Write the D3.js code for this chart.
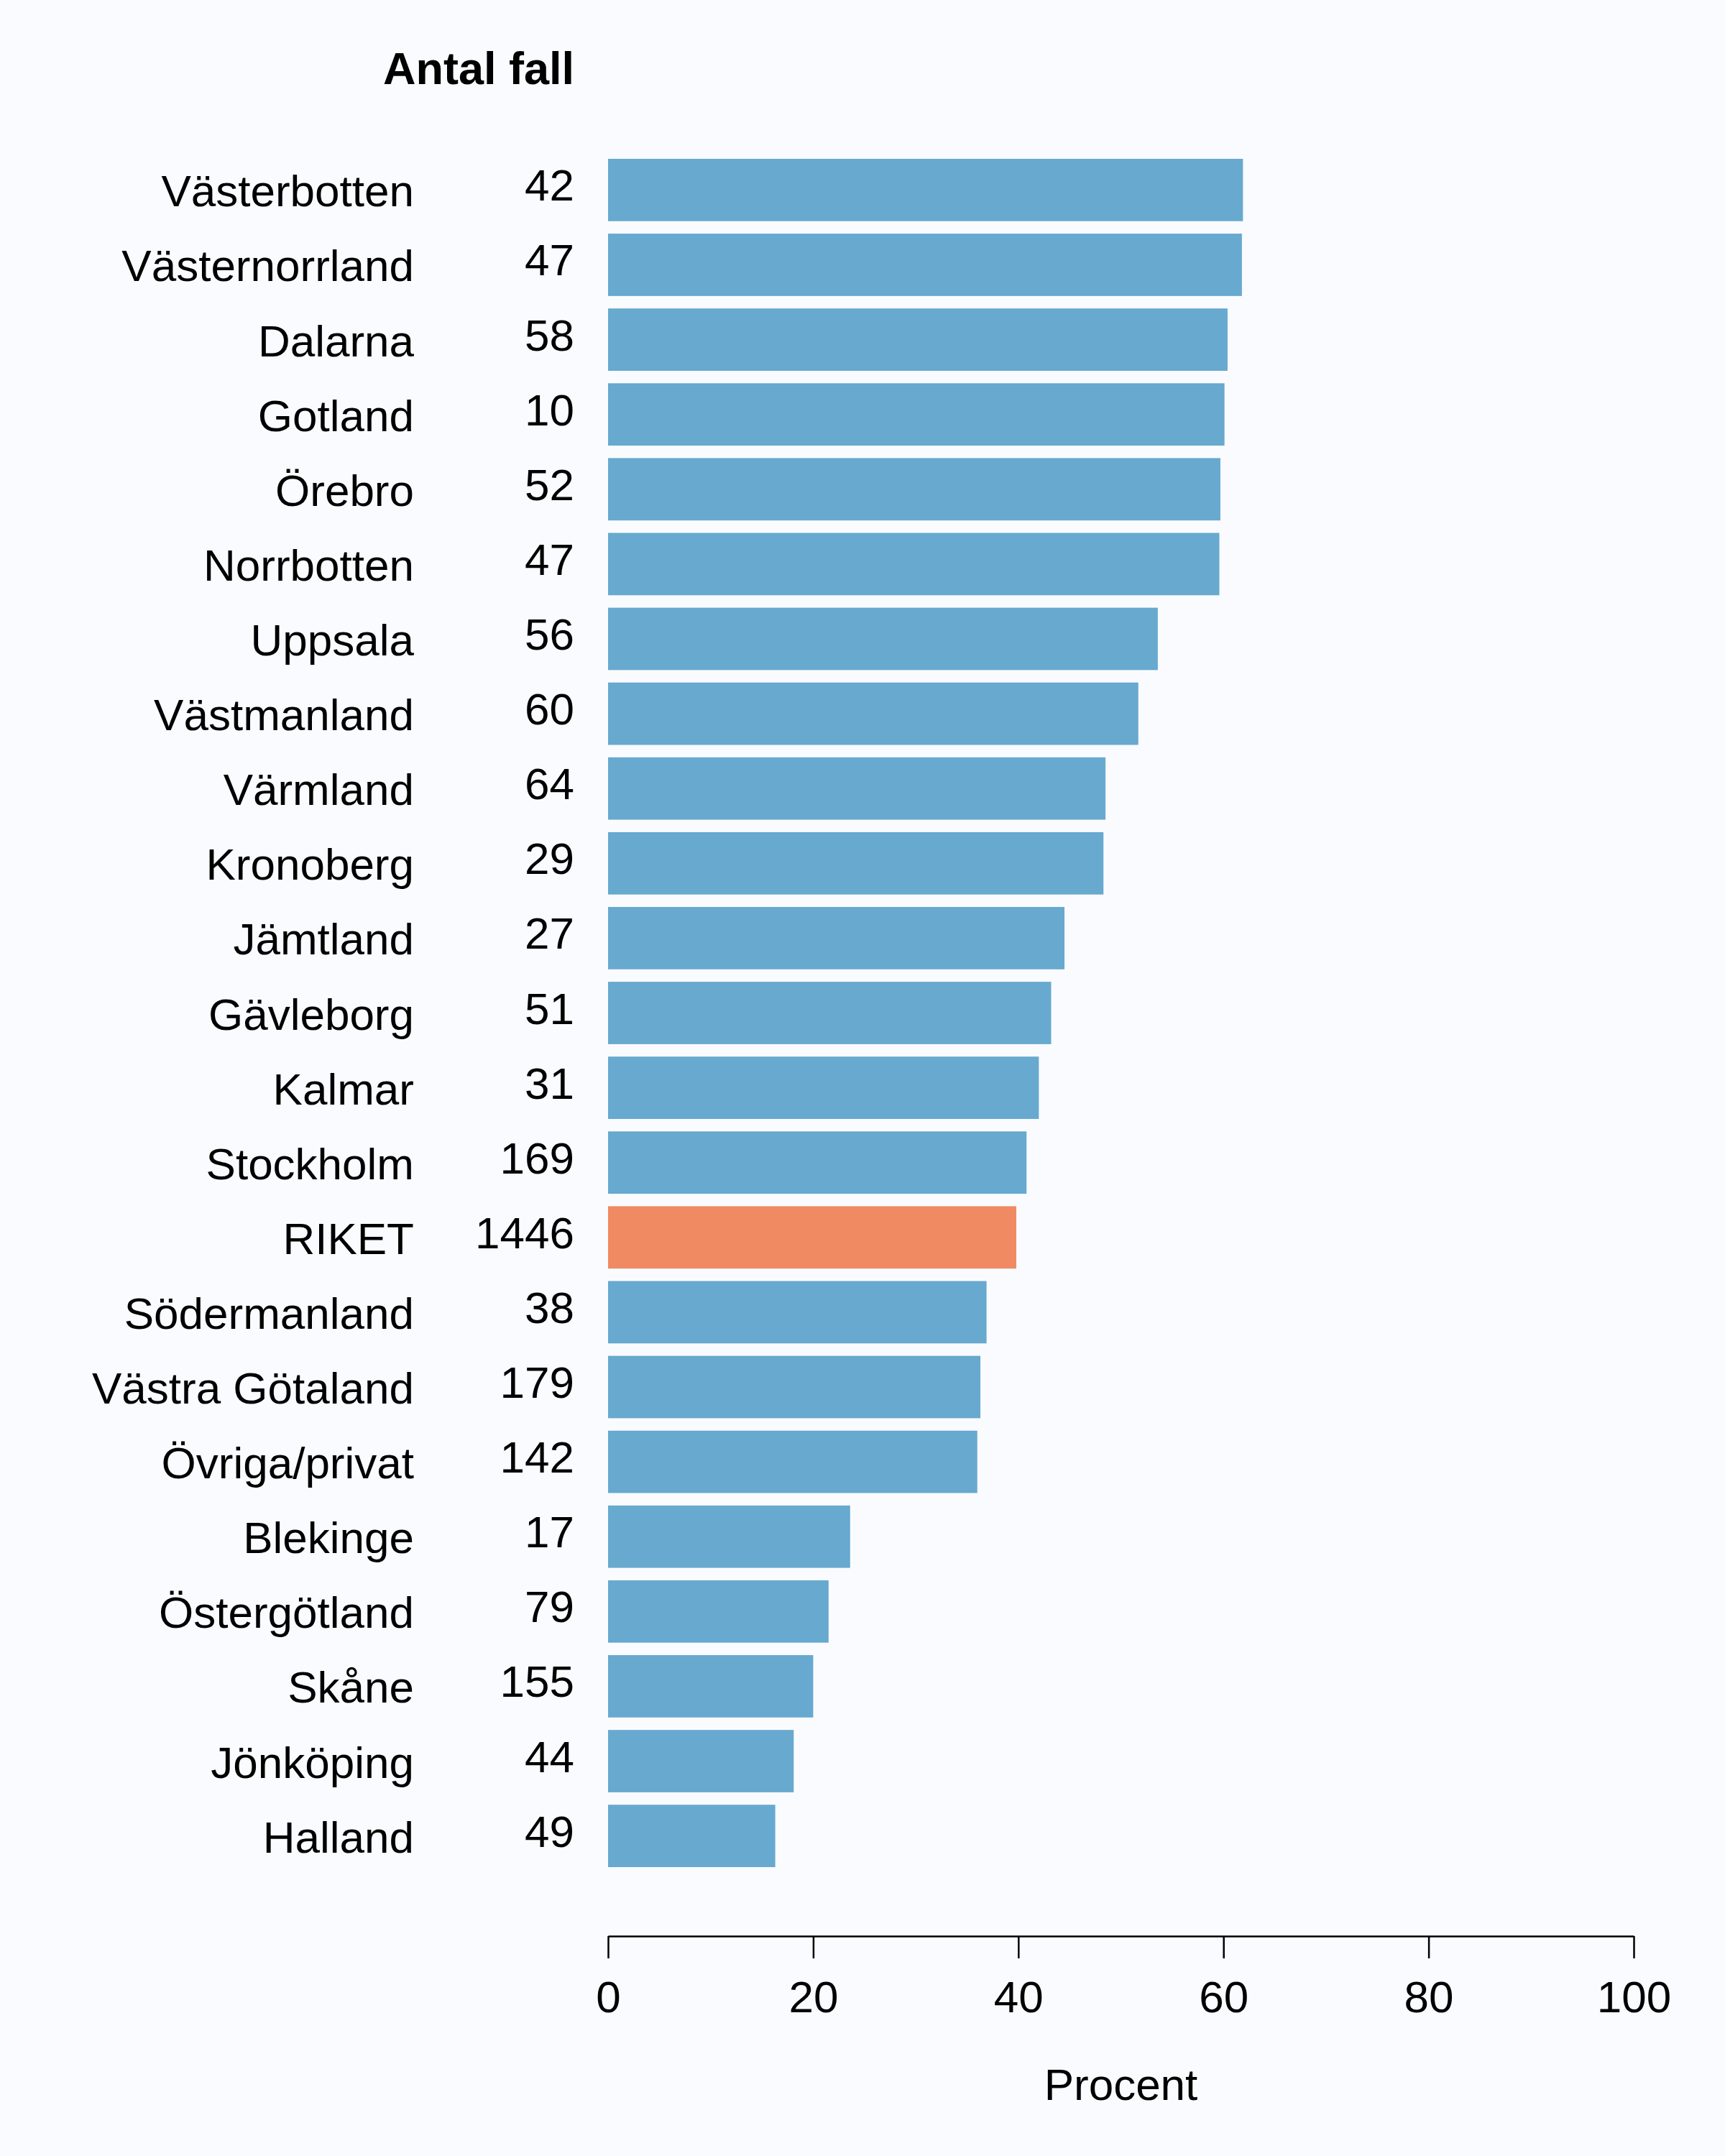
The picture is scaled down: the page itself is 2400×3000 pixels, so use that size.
<!DOCTYPE html>
<html>
<head>
<meta charset="utf-8">
<script src="https://cdn.jsdelivr.net/npm/d3@7"></script>
<style>
  body { margin: 0; background: #f9fbfe; }
  text { font-family: "Liberation Sans", Arial, Helvetica, sans-serif; }
</style>
</head>
<body>
<div id="chart"></div>
<script>
// data
let regions = ["Västerbotten", "Västernorrland", "Dalarna", "Gotland", "Örebro", "Norrbotten",
  "Uppsala", "Västmanland", "Värmland", "Kronoberg", "Jämtland", "Gävleborg", "Kalmar",
  "Stockholm", "RIKET", "Södermanland", "Västra Götaland", "Övriga/privat", "Blekinge",
  "Östergötland", "Skåne", "Jönköping", "Halland"];
let cases = [42, 47, 58, 10, 52, 47, 56, 60, 64, 29, 27, 51, 31, 169, 1446, 38, 179, 142, 17, 79, 155, 44, 49];
let percent = [61.9, 61.8, 60.4, 60.1, 59.7, 59.6, 53.6, 51.7, 48.5, 48.3, 44.5, 43.2, 42.0,
  40.8, 39.8, 36.9, 36.3, 36.0, 23.6, 21.5, 20.0, 18.1, 16.3];
let xTicks = [0, 20, 40, 60, 80, 100];
let highlight = "RIKET";

let width = 2400, height = 3000;
let margin = {top: 221, left: 846, right: 127, bottom: 402};

let svg = d3.select("#chart")
  .append("svg")
    .attr("width", width)
    .attr("height", height);

svg.append("rect")
  .attr("width", width)
  .attr("height", height)
  .attr("fill", "#f9fbfe");

let x = d3.scaleLinear()
  .domain([0, 100])
  .range([margin.left, width - margin.right]);

let y = d3.scaleBand()
  .domain(regions)
  .range([margin.top, height - margin.bottom])
  .paddingInner(0.2 / 1.2)
  .paddingOuter(0);

// bars
svg.append("g")
  .selectAll("rect")
  .data(regions)
  .join("rect")
    .attr("x", x(0))
    .attr("y", d => y(d))
    .attr("width", (d, i) => x(percent[i]) - x(0))
    .attr("height", y.bandwidth())
    .attr("fill", d => d === highlight ? "#ef8a62" : "#67a9cf");

// region names
svg.append("g")
  .selectAll("text")
  .data(regions)
  .join("text")
    .attr("x", 576)
    .attr("y", d => y(d) + y.bandwidth() / 2 + 23)
    .attr("text-anchor", "end")
    .attr("font-size", 62)
    .text(d => d);

// case counts
svg.append("g")
  .selectAll("text")
  .data(regions)
  .join("text")
    .attr("x", 799)
    .attr("y", d => y(d) + y.bandwidth() / 2 + 15)
    .attr("text-anchor", "end")
    .attr("font-size", 62)
    .text((d, i) => cases[i]);

svg.append("text")
  .attr("x", 799)
  .attr("y", 117)
  .attr("text-anchor", "end")
  .attr("font-size", 63)
  .attr("font-weight", "bold")
  .text("Antal fall");

// x axis
let axisY = 2694;
let xAxis = svg.append("g")
  .attr("transform", `translate(0,${axisY})`)
  .call(d3.axisBottom(x).tickValues(xTicks).tickSize(31).tickPadding(31).tickSizeOuter(0));

xAxis.select(".domain").attr("stroke", "#000").attr("stroke-width", 2.7);
xAxis.selectAll(".tick line").attr("stroke", "#000").attr("stroke-width", 2.5);
xAxis.selectAll(".tick text")
  .attr("font-size", 62)
  .attr("font-family", "Liberation Sans, Arial, Helvetica, sans-serif")
  .attr("fill", "#000");

svg.append("text")
  .attr("x", (x(0) + x(100)) / 2)
  .attr("y", 2922)
  .attr("text-anchor", "middle")
  .attr("font-size", 62)
  .text("Procent");
</script>
</body>
</html>
